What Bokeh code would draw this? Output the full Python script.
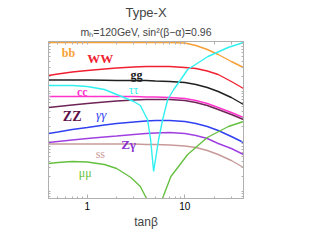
import numpy as np
from bokeh.plotting import figure
from bokeh.models import Range1d, LogAxis, LinearAxis, Label, Title, FixedTicker, PrintfTickFormatter
from bokeh.embed import file_html
from bokeh.resources import INLINE

# log10(BR); x = tan(beta)
T = [0.4, 0.5, 0.7, 1, 1.5, 2, 3, 4, 5, 7, 10, 13, 17, 22, 30, 40]
bb = [-0.02, -0.02, -0.02, -0.02, -0.02, -0.02, -0.02, -0.02, -0.02, -0.02, -0.03, -0.08, -0.16, -0.26, -0.40, -0.52]
WW = [-0.68, -0.65, -0.61, -0.58, -0.55, -0.53, -0.51, -0.50, -0.50, -0.50, -0.52, -0.54, -0.59, -0.66, -0.80, -0.94]
gg = [-0.77, -0.77, -0.77, -0.77, -0.775, -0.78, -0.78, -0.78, -0.79, -0.80, -0.82, -0.86, -0.92, -1.00, -1.12, -1.26]
cc = [-1.10, -1.10, -1.10, -1.10, -1.10, -1.10, -1.10, -1.11, -1.11, -1.12, -1.14, -1.18, -1.24, -1.32, -1.42, -1.52]
ZZ = [-1.32, -1.30, -1.27, -1.24, -1.21, -1.19, -1.17, -1.16, -1.16, -1.16, -1.18, -1.22, -1.28, -1.36, -1.46, -1.56]
gamgam = [-1.84, -1.81, -1.76, -1.72, -1.67, -1.64, -1.61, -1.59, -1.58, -1.58, -1.60, -1.64, -1.70, -1.78, -1.90, -2.02]
Zgam = [-2.02, -2.00, -1.97, -1.94, -1.91, -1.89, -1.86, -1.84, -1.83, -1.82, -1.84, -1.88, -1.94, -2.04, -2.14, -2.26]
ss = [-2.05, -2.05, -2.05, -2.05, -2.05, -2.05, -2.05, -2.06, -2.06, -2.07, -2.09, -2.12, -2.18, -2.26, -2.38, -2.52]

T_tau = [0.4, 0.7, 1, 1.5, 2, 3, 3.5, 4.15, 4.46, 4.79, 5.39, 5.93, 6.68, 7.7, 9.1, 10.7, 17.3, 27.8, 40]
tautau = [-0.88, -0.88, -0.90, -0.96, -1.06, -1.20, -1.28, -1.56, -1.96, -2.60, -1.96, -1.56, -1.16, -0.96, -0.76, -0.56, -0.30, -0.12, -0.02]

T_mu = [0.4, 0.5, 0.7, 1, 1.5, 2, 2.8, 3.5, 4.05, 4.4, 4.8, 5.3, 5.9, 7.2, 10.7, 17, 28, 40]
mumu = [-2.44, -2.42, -2.40, -2.41, -2.46, -2.54, -2.72, -2.90, -3.14, -3.46, -5.16, -3.46, -3.14, -2.70, -2.26, -1.92, -1.70, -1.60]

x_major = [1, 10]
x_minor = [0.4, 0.5, 0.6, 0.7, 0.8, 0.9, 2, 3, 4, 5, 6, 7, 8, 9, 20, 30, 40]

p = figure(width=301, height=231, x_axis_type="log",
           x_range=Range1d(0.4, 40), y_range=Range1d(-3.14, 0),
           output_backend="svg", toolbar_location=None,
           min_border_left=48, min_border_right=58,
           min_border_top=41, min_border_bottom=33)
p.grid.visible = False
p.outline_line_color = "#b0b0b0"

y_minor = [float(np.log10(k) + n) for n in range(-4, 0) for k in range(1, 10)]

def style_axis(ax):
    ax.axis_line_color = "#b0b0b0"
    ax.major_tick_line_color = "#b0b0b0"
    ax.minor_tick_line_color = "#b0b0b0"
    ax.major_tick_in = 4
    ax.major_tick_out = 0
    ax.minor_tick_in = 2
    ax.minor_tick_out = 0

for ax in p.xaxis:
    style_axis(ax)
    ax.ticker = FixedTicker(ticks=x_major, minor_ticks=x_minor)
    ax.formatter = PrintfTickFormatter(format="%d")
    ax.major_label_text_font = "Liberation Sans"
    ax.major_label_text_font_size = "10px"
    ax.major_label_text_color = "black"
    ax.major_label_standoff = 3
    ax.axis_label = "tanβ"
    ax.axis_label_text_font = "Liberation Sans"
    ax.axis_label_text_font_size = "12px"
    ax.axis_label_text_font_style = "normal"
    ax.axis_label_standoff = 2
for ax in p.yaxis:
    style_axis(ax)
    ax.ticker = FixedTicker(ticks=[], minor_ticks=y_minor)
    ax.major_label_standoff = 0

top = LogAxis(ticker=FixedTicker(ticks=[], minor_ticks=x_major + x_minor))
style_axis(top)
top.minor_tick_in = 3
top.major_label_standoff = 0
p.add_layout(top, "above")
right = LinearAxis(ticker=FixedTicker(ticks=[], minor_ticks=y_minor))
style_axis(right)
right.major_label_standoff = 0
p.add_layout(right, "right")

p.add_layout(Title(text="mₕ=120GeV, sin²(β−α)=0.96", align="center",
                   text_font="Liberation Sans", text_font_size="10.5px",
                   text_font_style="normal", standoff=7), "above")
p.add_layout(Title(text="Type-X", align="center",
                   text_font="Liberation Sans", text_font_size="13px",
                   text_font_style="normal", standoff=1), "above")

lw = 1.4
p.line(T, bb, color="#f7a035", line_width=lw)
p.line(T, WW, color="#f02030", line_width=lw)
p.line(T, gg, color="#202020", line_width=lw)
p.line(T, cc, color="#ff33cc", line_width=lw)
p.line(T, ZZ, color="#6e2456", line_width=lw)
p.line(T, gamgam, color="#3040f0", line_width=lw)
p.line(T, Zgam, color="#a040e0", line_width=lw)
p.line(T, ss, color="#c89a9a", line_width=lw)
p.line(T_tau, tautau, color="#30f0f0", line_width=lw)
p.line(T_mu, mumu, color="#66c040", line_width=lw)

def lab(x, y, text, color, size, style="bold"):
    p.add_layout(Label(x=x, y=y, text=text, text_color=color,
                       text_font="Liberation Serif", text_font_size=size,
                       text_font_style=style, text_align="center",
                       text_baseline="middle"))

lab(0.64, -0.22, "bb", "#f7a035", "12px")
lab(1.36, -0.33, "WW", "#f02030", "13px")
lab(3.2, -0.66, "gg", "#202020", "12px")
lab(0.89, -1.00, "cc", "#ff33cc", "12px")
lab(2.98, -0.96, "ττ", "#30f0f0", "12px", "normal")
lab(0.70, -1.49, "ZZ", "#5e1248", "14px")
lab(1.39, -1.46, "γγ", "#3040f0", "13px", "italic")
lab(2.65, -2.05, "Zγ", "#8a30d0", "13px")
lab(1.36, -2.24, "ss", "#c89a9a", "12px", "normal")
lab(0.95, -2.62, "μμ", "#66c040", "12px", "normal")

open("out.html", "w").write(file_html(p, INLINE))
